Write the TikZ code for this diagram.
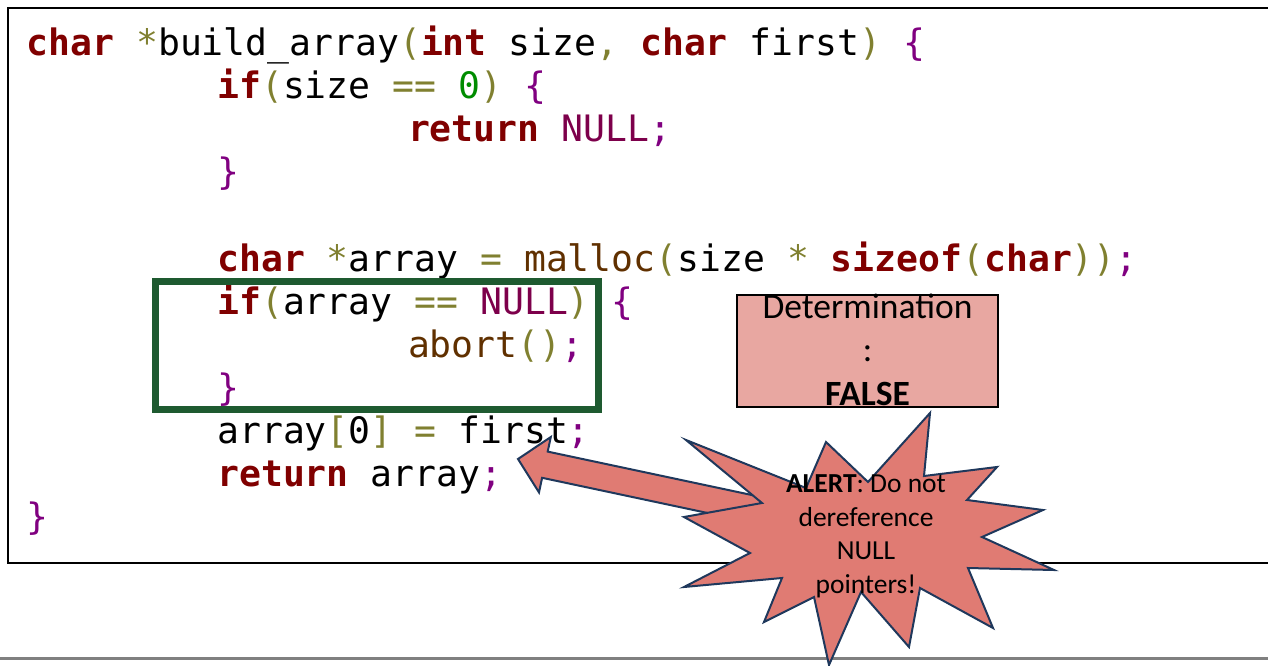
\documentclass[tikz,border=0pt]{standalone}
\usepackage{fontspec}
\setmainfont{Carlito}
\setmonofont{DejaVu Sans Mono}

% syntax colours of the listing
\definecolor{kwred}{RGB}{128,0,0}
\definecolor{opolive}{RGB}{128,128,48}
\definecolor{brpurple}{RGB}{128,0,128}
\definecolor{numgreen}{RGB}{0,140,0}
\definecolor{fnbrown}{RGB}{96,48,0}
\definecolor{nulmaroon}{RGB}{125,0,75}
% shapes
\definecolor{checkgreen}{RGB}{30,90,48}
\definecolor{detpink}{RGB}{232,167,161}
\definecolor{alertfill}{RGB}{224,123,115}
\definecolor{alertline}{RGB}{31,56,92}
\definecolor{rulegray}{RGB}{128,128,128}

\newcommand{\ckw}[1]{{\bfseries\color{kwred}#1}}
\newcommand{\cop}[1]{{\color{opolive}#1}}
\newcommand{\cbr}[1]{{\color{brpurple}#1}}
\newcommand{\cnum}[1]{{\color{numgreen}#1}}
\newcommand{\cfn}[1]{{\color{fnbrown}#1}}
\newcommand{\cnul}[1]{{\color{nulmaroon}#1}}

\begin{document}
\begin{tikzpicture}[x=1pt,y=-1pt,
  codeline/.style={anchor=base west, inner sep=0pt, outer sep=0pt,
    font=\ttfamily\fontsize{36.4}{44}\selectfont},
  checkbox/.style={draw=checkgreen, line width=7pt},
  detbox/.style={draw=black, line width=2pt, fill=detpink},
  dettext/.style={anchor=base, align=center, inner sep=0pt,
    font=\fontsize{35.5}{43.6}\selectfont},
  alertshape/.style={fill=alertfill, draw=alertline, line width=2pt, line join=miter},
  alerttext/.style={anchor=base, align=center, inner sep=0pt,
    font=\fontsize{27.5}{33.4}\selectfont},
]
\useasboundingbox (0,0) rectangle (1268,666);
\clip (0,0) rectangle (1268,666);

% code panel
\draw[line width=2pt] (1275,8) -- (8,8) -- (8,562.5) -- (1275,562.5);
% slide rule at the bottom
\draw[rulegray, line width=3.4pt] (0,658.3) -- (1268,658.3);

% listing, one node per line (baselines 43.1pt apart)
\def\xa{26.6}\def\xb{217.3}\def\xc{408}
\node[codeline] (l1)  at (\xa,55.5)  {\ckw{char} \cop{*}build\_array\cop{(}\ckw{int} size\cop{,} \ckw{char} first\cop{)} \cbr{\{}};
\node[codeline] (l2)  at (\xb,98.6)  {\ckw{if}\cop{(}size \cop{==} \cnum{0}\cop{)} \cbr{\{}};
\node[codeline] (l3)  at (\xc,141.7) {\ckw{return} \cnul{NULL}\cbr{;}};
\node[codeline] (l4)  at (\xb,184.8) {\cbr{\}}};
\node[codeline] (l6)  at (\xb,271.0) {\ckw{char} \cop{*}array \cop{=} \cfn{malloc}\cop{(}size \cop{*} \ckw{sizeof}\cop{(}\ckw{char}\cop{))}\cbr{;}};
\node[codeline] (l7)  at (\xb,314.1) {\ckw{if}\cop{(}array \cop{==} \cnul{NULL}\cop{)} \cbr{\{}};
\node[codeline] (l8)  at (\xc,357.2) {\cfn{abort}\cop{()}\cbr{;}};
\node[codeline] (l9)  at (\xb,400.3) {\cbr{\}}};
\node[codeline] (l10) at (\xb,443.4) {array\cop{[}0\cop{]} \cop{=} first\cbr{;}};
\node[codeline] (l11) at (\xb,486.5) {\ckw{return} array\cbr{;}};
\node[codeline] (l12) at (\xa,529.6) {\cbr{\}}};

% frame around the NULL check
\draw[checkbox] (155.5,281) rectangle (598,409.5);

% determination box (text runs past its lower edge)
\draw[detbox] (736.7,295) rectangle (997.7,406.7);
\node[dettext] (det) at (867.5,405.5) {Determination\\:\\\textbf{FALSE}};

% block arrow from the burst to the dereference
\coordinate (tip) at (518,459);
\coordinate (hu)  at (550.8,437.0);
\coordinate (ju)  at (547.7,451.6);
\coordinate (tu)  at (804.4,506.2);
\coordinate (tl)  at (798.8,532.4);
\coordinate (jl)  at (542.1,477.8);
\coordinate (hl)  at (539.0,492.4);
\draw[alertshape] (tip) -- (hu) -- (ju) -- (tu) -- (tl) -- (jl) -- (hl) -- cycle;

% explosion burst
\draw[alertshape]
  (686,440) -- (806,488) -- (826,442) -- (868,482) -- (930,413) -- (924,476)
  -- (997,467) -- (967,500) -- (1043,510) -- (982,537) -- (1054,570) -- (968,568)
  -- (993,628) -- (920,588) -- (909,647) -- (861,592) -- (829,665) -- (814,597)
  -- (764,622) -- (782,578) -- (684,587) -- (750,553) -- (684,517) -- (762,503)
  -- cycle;
\node[alerttext] (alert) at (866,593) {\textbf{ALERT}: Do not\\dereference\\NULL\\pointers!};
\end{tikzpicture}
\end{document}
